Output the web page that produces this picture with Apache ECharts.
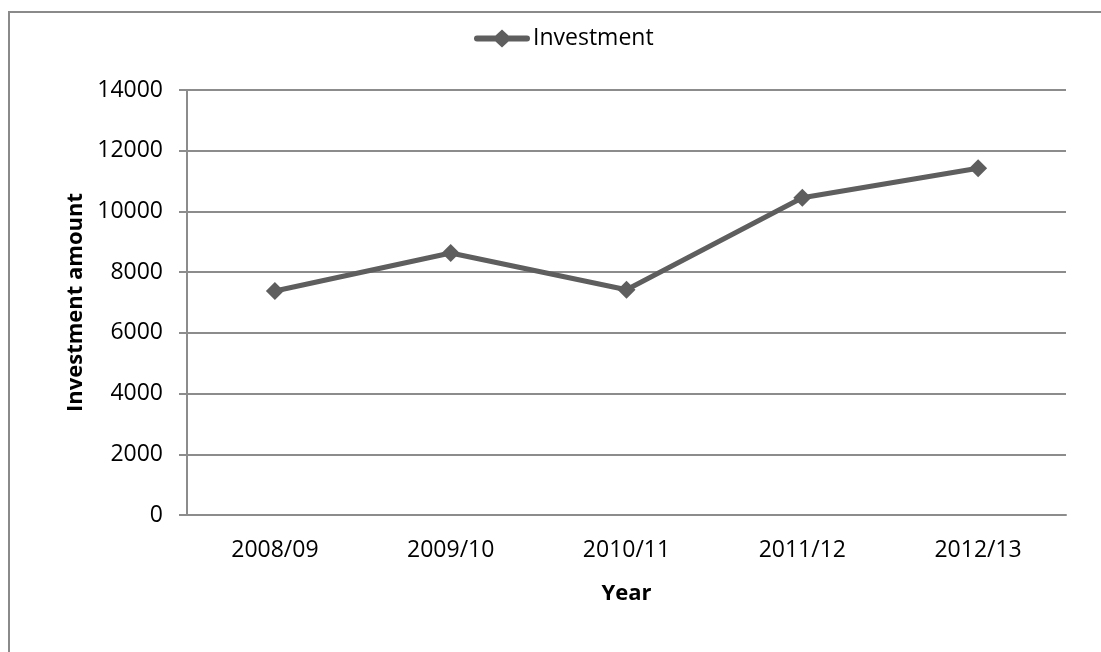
<!DOCTYPE html>
<html>
<head>
<meta charset="utf-8">
<script src="https://cdn.jsdelivr.net/npm/echarts@6/dist/echarts.min.js"></script>
<style>
  html, body { margin: 0; padding: 0; background: #ffffff; }
  #chart { width: 1101px; height: 652px; }
</style>
</head>
<body>
<div id="chart"></div>
<script>
// Financial years on the horizontal axis
const years = ['2008/09', '2009/10', '2010/11', '2011/12', '2012/13'];
// Investment amount per year
const investment = [7380, 8630, 7420, 10450, 11420];
// Value axis range and step
const yMin = 0;
const yMax = 14000;
const yStep = 2000;

const FONT = '"Open Sans", "Noto Sans", sans-serif';
const GREY_LINE = '#8c8c8c';
const SERIES_COLOR = '#5e5e5e';

// Legend key: thick line with a diamond in the middle
const LEGEND_ICON = 'path://M3,6 L21.5,6 L28,0 L34.5,6 L53,6 A3,3 0 0 1 53,12 L34.5,12 L28,18 L21.5,12 L3,12 A3,3 0 0 1 3,6 Z';

const chart = echarts.init(document.getElementById('chart'), null, { renderer: 'canvas' });

chart.setOption({
  backgroundColor: '#ffffff',
  animation: false,
  graphic: [{
    type: 'rect',
    shape: { x: 9, y: 12, width: 1200, height: 800 },
    style: { fill: 'none', stroke: '#8a8a8a', lineWidth: 2 },
    silent: true,
    z: -1
  }],
  legend: {
    left: 469,
    top: 22,
    itemWidth: 56,
    itemHeight: 18,
    itemGap: 10,
    textStyle: { fontFamily: FONT, fontSize: 23, color: '#000000', padding: [0, 0, 0, -2] },
    data: [{
      name: 'Investment',
      icon: LEGEND_ICON,
      itemStyle: { color: SERIES_COLOR, borderWidth: 0 }
    }]
  },
  grid: {
    left: 187,
    right: 35,
    top: 90,
    bottom: 137,
    containLabel: false
  },
  xAxis: {
    type: 'category',
    data: years,
    boundaryGap: true,
    name: 'Year',
    nameLocation: 'middle',
    nameGap: 68,
    nameTextStyle: { fontFamily: FONT, fontSize: 22, fontWeight: 'bold', color: '#000000' },
    axisLine: { show: true, lineStyle: { color: GREY_LINE, width: 2 } },
    axisTick: { show: false },
    axisLabel: { fontFamily: FONT, fontSize: 23, color: '#000000', margin: 24 },
    splitLine: { show: false }
  },
  yAxis: {
    type: 'value',
    min: yMin,
    max: yMax,
    interval: yStep,
    name: 'Investment amount',
    nameLocation: 'middle',
    nameGap: 97,
    nameTextStyle: { fontFamily: FONT, fontSize: 22, fontWeight: 'bold', color: '#000000' },
    axisLine: { show: true, lineStyle: { color: GREY_LINE, width: 2 } },
    axisTick: { show: true, length: 8, lineStyle: { color: GREY_LINE, width: 2 } },
    axisLabel: {
      fontFamily: FONT, fontSize: 23, color: '#000000', margin: 24,
      formatter: (v) => String(v)
    },
    splitLine: { show: true, lineStyle: { color: GREY_LINE, width: 2 } }
  },
  series: [{
    name: 'Investment',
    type: 'line',
    data: investment,
    symbol: 'diamond',
    symbolSize: 18,
    lineStyle: { color: SERIES_COLOR, width: 5 },
    itemStyle: { color: SERIES_COLOR },
    z: 5
  }]
});
</script>
</body>
</html>
